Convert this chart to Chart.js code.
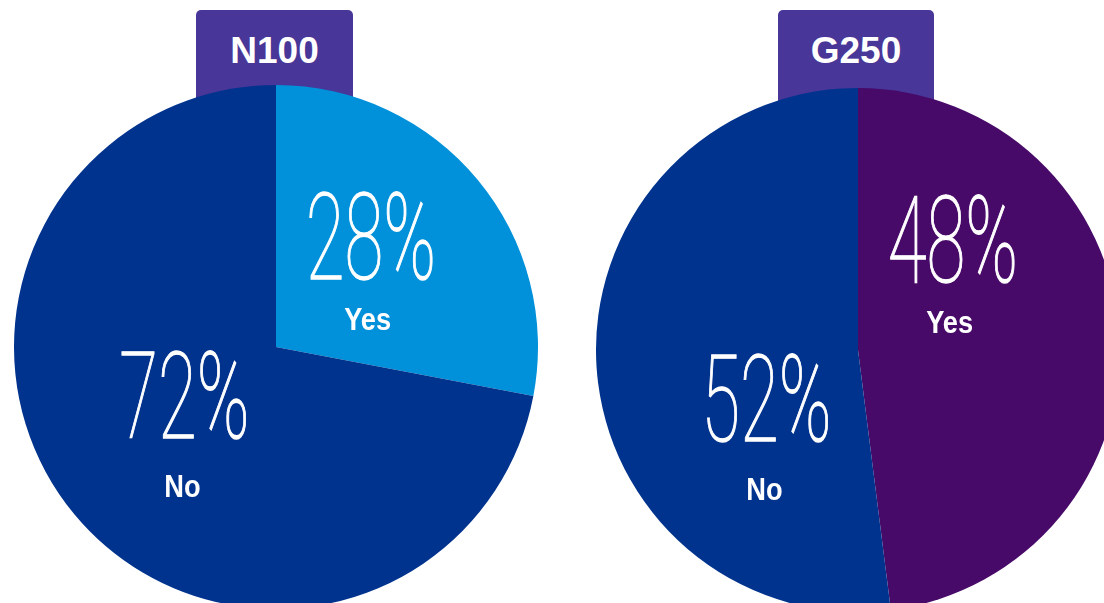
<!DOCTYPE html>
<html>
<head>
<meta charset="utf-8">
<script src="https://cdn.jsdelivr.net/npm/chart.js@4/dist/chart.umd.min.js"></script>
<style>
  html, body { margin: 0; padding: 0; background: #ffffff; }
  body { width: 1104px; height: 603px; overflow: hidden; position: relative; }
  .tab { position: absolute; top: 10px; height: 100px; background: #483698; border-radius: 5px 5px 0 0; z-index: 1; }
  .tab span { position: absolute; left: 0; right: 0; top: 22px; text-align: center; color: #fff;
              font: bold 37px/37px "Liberation Sans", Arial, sans-serif; }
  .wrap { position: absolute; z-index: 2; }
  canvas { display: block; }
</style>
</head>
<body>
<div class="tab" id="tab0" style="left:196px;width:157px;"><span></span></div>
<div class="tab" id="tab1" style="left:778px;width:156px;"><span></span></div>
<div class="wrap" style="left:14px;top:85px;width:524px;height:524px;"><canvas id="c0" width="524" height="524"></canvas></div>
<div class="wrap" style="left:596px;top:88px;width:524px;height:524px;"><canvas id="c1" width="524" height="524"></canvas></div>
<script>
// ---- data ----
const chartTitles = ["N100", "G250"];
const categories = ["Yes", "No"];
const n100Values = [28, 72];
const g250Values = [48, 52];
const n100Colors = ["#0091DA", "#00338D"];
const g250Colors = ["#470A68", "#00338D"];

document.querySelector('#tab0 span').textContent = chartTitles[0];
document.querySelector('#tab1 span').textContent = chartTitles[1];

// label placement, as fractions of radius from pie centre, per slice index
const numPos = [[0.362, -0.395], [-0.35, 0.215]];
const wordPos = [[0.35, -0.1], [-0.357, 0.537]];

const labelPlugin = {
  id: 'sliceLabels',
  afterDatasetsDraw(chart) {
    const ctx = chart.ctx;
    const meta = chart.getDatasetMeta(0);
    const ds = chart.data.datasets[0];
    meta.data.forEach((arc, i) => {
      const p = arc.getProps(['x', 'y', 'outerRadius'], true);
      const r = p.outerRadius;
      // percentage
      const nx = p.x + numPos[i][0] * r, ny = p.y + numPos[i][1] * r;
      ctx.save();
      ctx.fillStyle = '#ffffff';
      ctx.strokeStyle = '#ffffff';
      ctx.lineWidth = 1.3;
      ctx.textAlign = 'center';
      ctx.textBaseline = 'middle';
      ctx.translate(nx, ny);
      ctx.scale(0.59, 1);
      ctx.font = '100 120px Roboto, "Liberation Sans", sans-serif';
      const t = ds.data[i] + '%';
      ctx.fillText(t, 0, 5);
      ctx.strokeText(t, 0, 5);
      ctx.restore();
      // category word
      const wx = p.x + wordPos[i][0] * r, wy = p.y + wordPos[i][1] * r;
      ctx.save();
      ctx.fillStyle = '#ffffff';
      ctx.textAlign = 'center';
      ctx.textBaseline = 'middle';
      ctx.translate(wx, wy);
      ctx.scale(0.88, 1);
      ctx.font = 'bold 31px "Liberation Sans", Arial, sans-serif';
      ctx.fillText(chart.data.labels[i], 0, 1);
      ctx.restore();
    });
  }
};

function makePie(id, values, colors) {
  return new Chart(document.getElementById(id), {
    type: 'pie',
    data: {
      labels: categories,
      datasets: [{ data: values, backgroundColor: colors, borderWidth: 0 }]
    },
    options: {
      responsive: false,
      animation: false,
      layout: { padding: 0 },
      plugins: { legend: { display: false }, tooltip: { enabled: false } }
    },
    plugins: [labelPlugin]
  });
}

makePie('c0', n100Values, n100Colors);
makePie('c1', g250Values, g250Colors);
</script>
</body>
</html>
